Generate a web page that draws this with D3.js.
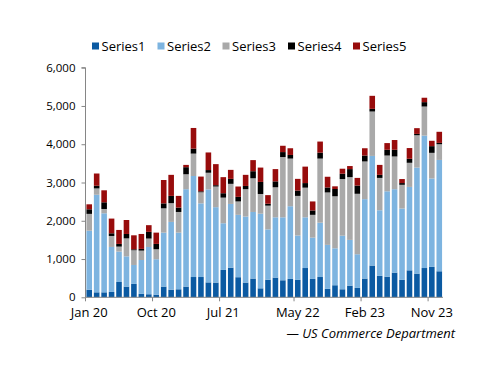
<!DOCTYPE html>
<html>
<head>
<meta charset="utf-8">
<script src="https://cdn.jsdelivr.net/npm/d3@7"></script>
<style>
  body { margin: 0; background: #fff; }
  svg text { font-family: "Open Sans", "DejaVu Sans", sans-serif; fill: #000; }
</style>
</head>
<body>
<div id="chart"></div>
<script>
// Monthly, Jan 2020 .. Dec 2023
var months = d3.timeMonths(new Date(2020, 0, 1), new Date(2024, 0, 1));
var seriesNames = ['Series1', 'Series2', 'Series3', 'Series4', 'Series5'];
var colors = ['#0b5aa2', '#7db4e0', '#a9a9a9', '#000000', '#980c0c'];

var series1 = [200, 130, 130, 140, 400, 280, 350, 90, 80, 70,
  280, 200, 210, 280, 530, 530, 390, 385, 715, 775,
  525, 385, 490, 235, 460, 515, 445, 480, 455, 765,
  480, 530, 220, 315, 210, 305, 245, 490, 830, 560,
  540, 645, 455, 705, 620, 765, 795, 680];
var series2 = [1540, 2550, 2065, 1176, 795, 790, 495, 885, 1235, 925,
  1410, 1770, 1480, 2545, 2640, 1925, 2430, 1970, 1220, 1665,
  1630, 1725, 1740, 1950, 1315, 1575, 1645, 1900, 1160, 1325,
  1080, 1420, 1150, 965, 1400, 1195, 880, 2075, 2865, 1715,
  2230, 2180, 1865, 2180, 2770, 3460, 2310, 2910];
var series3 = [440, 165, 113, 287, 130, 470, 385, 245, 220, 260,
  635, 490, 540, 390, 585, 290, 435, 540, 670, 525,
  350, 715, 880, 515, 620, 785, 1575, 1245, 1035, 775,
  595, 1675, 1370, 1360, 1480, 1640, 1580, 985, 1160, 845,
  935, 855, 620, 630, 845, 760, 670, 410];
var series4 = [120, 70, 175, 70, 70, 115, 25, 45, 175, 140,
  130, 190, 115, 185, 130, 25, 70, 35, 115, 130,
  120, 85, 185, 315, 50, 155, 130, 95, 140, 120,
  115, 155, 130, 190, 140, 210, 215, 155, 70, 80,
  150, 175, 45, 105, 35, 115, 175, 35];
var series5 = [130, 320, 313, 384, 365, 365, 365, 390, 175, 295,
  610, 550, 305, 60, 540, 385, 460, 550, 420, 235,
  270, 290, 290, 375, 225, 320, 165, 175, 305, 430,
  235, 290, 280, 70, 130, 80, 200, 190, 340, 260,
  175, 255, 105, 280, 150, 115, 140, 290];

var yTicks = [0, 1000, 2000, 3000, 4000, 5000, 6000];
var xTickLabels = ['Jan 20', 'Oct 20', 'Jul 21', 'May 22', 'Feb 23', 'Nov 23'];
var sourceNote = '\u2014 US Commerce Department';

var width = 500, height = 386;
var plot = {left: 85.5, right: 443, top: 67.7, bottom: 297.3};
var fmtMonth = d3.timeFormat('%b %y');

var rows = months.map(function(m, i) {
  return {month: m, Series1: series1[i], Series2: series2[i], Series3: series3[i],
    Series4: series4[i], Series5: series5[i]};
});

var x = d3.scaleBand()
  .domain(months.map(function(m) { return fmtMonth(m); }))
  .range([plot.left, plot.right])
  .paddingInner(0.25)
  .paddingOuter(0.125);

var y = d3.scaleLinear()
  .domain([0, 6000])
  .range([plot.bottom, plot.top]);

var stack = d3.stack().keys(seriesNames);
var layers = stack(rows);

var svg = d3.select('#chart').append('svg')
  .attr('width', width)
  .attr('height', height);

// Bars
svg.append('g').selectAll('g')
  .data(layers)
  .enter().append('g')
  .attr('fill', function(d, i) { return colors[i]; })
  .selectAll('rect')
  .data(function(d) { return d; })
  .enter().append('rect')
  .attr('x', function(d) { return x(fmtMonth(d.data.month)); })
  .attr('width', x.bandwidth())
  .attr('y', function(d) { return y(d[1]); })
  .attr('height', function(d) { return y(d[0]) - y(d[1]); });

// Y axis
var yAxis = d3.axisLeft(y)
  .tickValues(yTicks)
  .tickSize(4)
  .tickPadding(6)
  .tickFormat(d3.format(','));

var gy = svg.append('g')
  .attr('transform', 'translate(' + plot.left + ',0)')
  .call(yAxis);
gy.select('.domain').attr('stroke', '#868686').attr('d', 'M-4,' + plot.top + 'H0V' + plot.bottom);
gy.selectAll('.tick line').attr('stroke', '#868686');
gy.selectAll('.tick text').style('font-size', '11.5px');

// X axis: ticks at the left edge of labelled months, labels centred on the bar
var step = x.step();
var labelled = months.filter(function(m) { return xTickLabels.indexOf(fmtMonth(m)) >= 0; });
var gx = svg.append('g');
gx.append('line')
  .attr('x1', plot.left).attr('x2', plot.right)
  .attr('y1', plot.bottom).attr('y2', plot.bottom)
  .attr('stroke', '#868686');
gx.selectAll('.xt')
  .data(labelled)
  .enter().append('line')
  .attr('class', 'xt')
  .attr('x1', function(m) { return x(fmtMonth(m)) - step * 0.125; })
  .attr('x2', function(m) { return x(fmtMonth(m)) - step * 0.125; })
  .attr('y1', plot.bottom)
  .attr('y2', plot.bottom + 4)
  .attr('stroke', '#868686');
gx.selectAll('text')
  .data(labelled)
  .enter().append('text')
  .attr('x', function(m) { return x(fmtMonth(m)) + x.bandwidth() / 2; })
  .attr('y', plot.bottom + 20)
  .attr('text-anchor', 'middle')
  .style('font-size', '13px')
  .text(function(m) { return fmtMonth(m); });

// Legend
var legendX = [92, 157.5, 222.5, 288, 353];
var legend = svg.append('g');
seriesNames.forEach(function(name, i) {
  legend.append('rect')
    .attr('x', legendX[i]).attr('y', 42.5)
    .attr('width', 7).attr('height', 7)
    .attr('fill', colors[i]);
  legend.append('text')
    .attr('x', legendX[i] + 9.5).attr('y', 50.5)
    .style('font-size', '13px')
    .text(name);
});

// Source
svg.append('text')
  .attr('x', 455).attr('y', 338)
  .attr('text-anchor', 'end')
  .style('font-size', '13px')
  .style('font-style', 'italic')
  .text(sourceNote);
</script>
</body>
</html>
